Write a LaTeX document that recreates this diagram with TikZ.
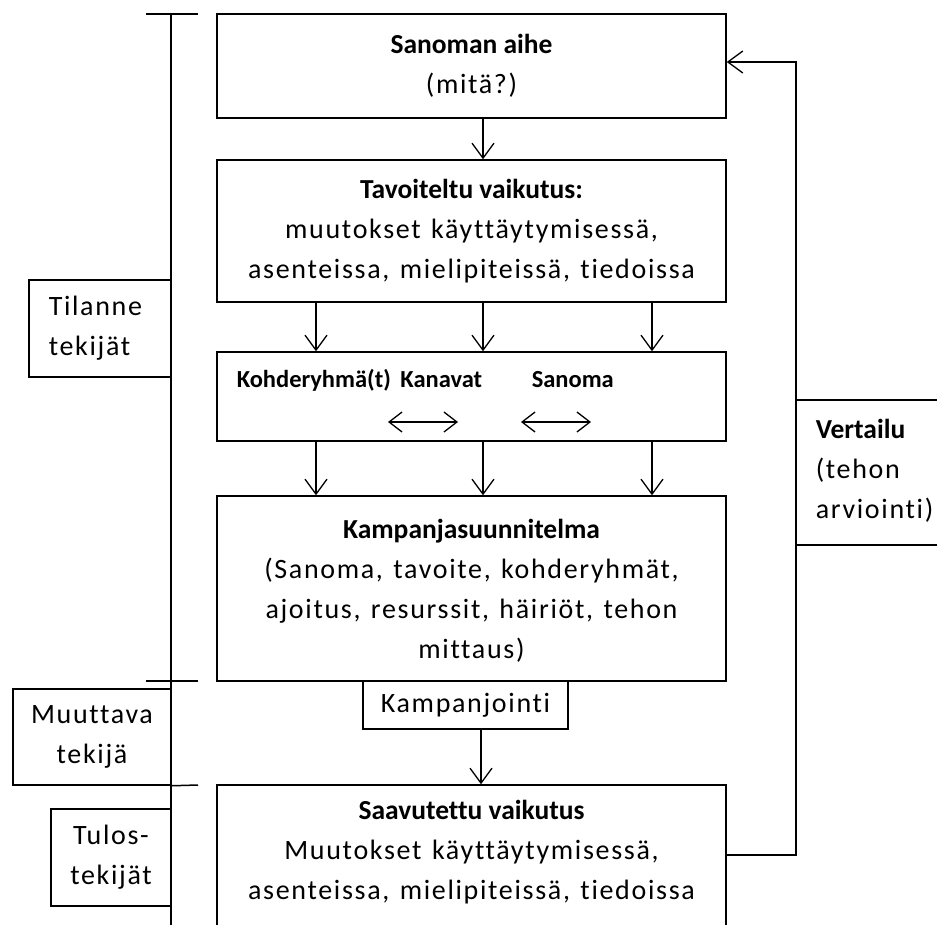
\documentclass[tikz,border=0pt]{standalone}
\usepackage{fontspec}
\setmainfont{Carlito}[Ligatures=NoCommon,LetterSpace=6.0,WordSpace=1.3,BoldFeatures={LetterSpace=0.0,WordSpace=1.0}]
\usetikzlibrary{arrows.meta,calc}
\newcommand\myfs{\fontsize{28}{40}\selectfont}
\newcommand\mybf[1]{{\fontsize{27.5}{40}\selectfont\bfseries #1}}
\newcommand\mysbf[1]{{\fontsize{24.5}{40}\selectfont\bfseries #1}}
\begin{document}
\begin{tikzpicture}[x=1pt,y=-1pt,line width=1.5pt,
  box/.style={draw,rectangle,inner sep=0pt,align=center,font=\myfs},
  txt/.style={inner sep=0pt,font=\myfs},
  arr/.style={-{Straight Barb[length=15pt,width=22pt,line width=1.3pt]}},
  darr/.style={{Straight Barb[length=13pt,width=20pt,line width=1.3pt]}-{Straight Barb[length=13pt,width=20pt,line width=1.3pt]}}]
\useasboundingbox (0,0) rectangle (937,924);
\clip (0,0) rectangle (937,924);
% main boxes
\node[box,minimum width=509,minimum height=104] (b1) at (471.5,66) {\mybf{Sanoman aihe}\\(mitä?)};
\node[box,minimum width=509,minimum height=142] (b2) at (471.5,231) {\mybf{Tavoiteltu vaikutus:}\\muutokset käyttäytymisessä,\\asenteissa, mielipiteissä, tiedoissa};
\node[box,minimum width=509,minimum height=89] (b3) at (471.5,396.5) {};
\node[txt,anchor=west] (k1) at (236,380) {\mysbf{Kohderyhmä(t)}};
\node[txt,anchor=west] (k2) at ($(k1.east)+(8,0)$) {\mysbf{Kanavat}};
\node[txt,anchor=west] (k3) at (531,380) {\mysbf{Sanoma}};
\node[box,minimum width=509,minimum height=185] (b4) at (471.5,588.5) {};
\node[txt,align=center] (t4) at (471.5,591) {\mybf{Kampanjasuunnitelma}\\(Sanoma, tavoite, kohderyhmät,\\ajoitus, resurssit, häiriöt, tehon\\mittaus)};
\node[box,minimum width=205,minimum height=48] (kj) at (465.5,705) {Kampanjointi};
\node[box,minimum width=509,minimum height=165] (b5) at (471.5,867.5) {};
\node[txt,align=center] (t5) at (471.5,852) {\mybf{Saavutettu vaikutus}\\Muutokset käyttäytymisessä,\\asenteissa, mielipiteissä, tiedoissa};
% left side boxes
\node[box,minimum width=142,minimum height=97] (tl) at (100,328.5) {};
\node[txt,align=left,anchor=west] (tlt) at (48,328.5) {Tilanne\\tekijät};
\node[box,minimum width=158,minimum height=96] (mu) at (92,737) {Muuttava\\tekijä};
\node[box,minimum width=120,minimum height=97] (tu) at (111,857.5) {Tulos-\\tekijät};
% right side box
\node[draw,rectangle,inner sep=0pt,minimum width=154,minimum height=145] (ve) at (873,472.5) {};
\node[txt,align=left,anchor=west] (vt) at (815,471) {\mybf{Vertailu}\\(tehon\\arviointi)};
% bracket
\coordinate (bt) at (171,14);
\coordinate (bb) at (171,930);
\draw (bt) -- (bb);
\draw (146,14) -- (198,14);
\draw (146,681) -- (198,681);
\draw (mu.south east) -- (198,785);
% arrows
\draw[arr] (b1.south -| 483,0) -- (b2.north -| 483,0);
\foreach \x in {316,483,652}{
  \draw[arr] (b2.south -| \x,0) -- (b3.north -| \x,0);
  \draw[arr] (b3.south -| \x,0) -- (b4.north -| \x,0);
}
\draw[darr] (388,422) -- (458,422);
\draw[darr] (521,422) -- (591,422);
\draw[arr] (kj.south -| 481,0) -- (b5.north -| 481,0);
% feedback
\coordinate (fb) at (796,0);
\draw[arr] (b5.east |- 0,855) -- (fb |- 0,855) -- (fb |- 0,62) -- (b1.east |- 0,62);
\end{tikzpicture}
\end{document}
